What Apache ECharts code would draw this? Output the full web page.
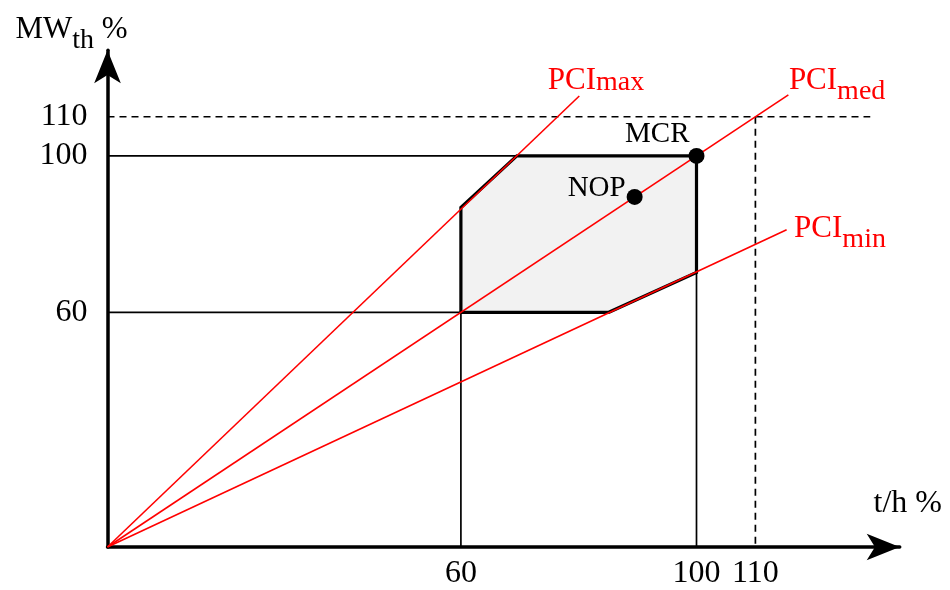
<!DOCTYPE html>
<html><head><meta charset="utf-8">
<script src="https://cdn.jsdelivr.net/npm/echarts@6/dist/echarts.min.js"></script>
<style>html,body{margin:0;padding:0;background:#fff}#c{width:950px;height:590px}</style>
</head><body><div id="c"></div>
<script>
// ---- data ----
const xTicks = [60, 100, 110];
const yTicks = [60, 100, 110];
const region = [[60, 60], [60, 86.8], [69.5, 100], [100, 100], [100, 70.2], [85.1, 60]];
const pciMax = [[0, 0], [80.1, 115.3]];
const pciMed = [[0, 0], [115.6, 115.6]];
const pciMin = [[0, 0], [115.3, 81.1]];
const guide100h = [[0, 100], [100, 100]];
const guide60h = [[0, 60], [60, 60]];
const guide60v = [[60, 0], [60, 60]];
const guide100v = [[100, 0], [100, 70.2]];
const dash110h = [[0, 110], [129.5, 110]];
const dash110v = [[110, 110], [110, 0]];
const opPoints = [['MCR', 100, 100], ['NOP', 89.5, 89.5]];

const FONT = 'Liberation Serif';
const chart = echarts.init(document.getElementById('c'), null, {renderer: 'canvas'});

function thin(data, extra) {
  return Object.assign({
    type: 'line', data: data, symbol: 'none', silent: true, z: 2,
    lineStyle: {color: '#000', width: 1.7}
  }, extra || {});
}
function red(data) {
  return {
    type: 'line', data: data, symbol: 'none', silent: true, z: 4,
    lineStyle: {color: '#ff0000', width: 1.6}
  };
}
function richFor(color) {
  return {
    a: {fontFamily: FONT, fontSize: 31, color: color, verticalAlign: 'top', lineHeight: 32},
    hi: {fontFamily: FONT, fontSize: 28, color: color, verticalAlign: 'bottom', lineHeight: 31.5},
    lo: {fontFamily: FONT, fontSize: 28, color: color, verticalAlign: 'bottom', lineHeight: 40.5}
  };
}
const redRich = richFor('#ff0000');

const option = {
  animation: false,
  backgroundColor: '#fff',
  grid: {left: 107.5, right: 0, top: 0, bottom: 41.5, containLabel: false},
  xAxis: {
    type: 'value', min: 0, max: 134.5,
    name: 't/h %', nameLocation: 'end', nameGap: 8,
    nameTextStyle: {fontFamily: FONT, fontSize: 32, color: '#000', align: 'center', verticalAlign: 'bottom', padding: [0, 0, 27, 0]},
    axisLine: {show: true, onZero: false, symbol: ['none', 'arrow'], symbolSize: [20, 33],
      lineStyle: {color: '#000', width: 3.5}},
    axisTick: {show: false},
    splitLine: {show: false},
    axisLabel: {customValues: xTicks, fontFamily: FONT, fontSize: 32, color: '#000', margin: 11}
  },
  yAxis: {
    type: 'value', min: 0, max: 127,
    name: '{a|MW}{lo|th}{a| %}', nameLocation: 'end', nameGap: 15.5,
    nameTextStyle: {
      align: 'center', verticalAlign: 'middle', padding: [0, 72, 0, 0],
      rich: richFor('#000')
    },
    axisLine: {show: true, onZero: false, symbol: ['none', 'arrow'], symbolSize: [20, 33],
      lineStyle: {color: '#000', width: 3.5}},
    axisTick: {show: false},
    splitLine: {show: false},
    axisLabel: {customValues: yTicks, fontFamily: FONT, fontSize: 32, color: '#000', margin: 20}
  },
  series: [
    thin(guide100h), thin(guide60h), thin(guide60v), thin(guide100v),
    thin(dash110h, {lineStyle: {color: '#000', width: 1.7, type: [7, 5]}}),
    thin(dash110v, {lineStyle: {color: '#000', width: 1.7, type: [7, 5]}}),
    {
      type: 'custom', silent: true, z: 3, data: [[0, 0]],
      renderItem: function (params, api) {
        return {
          type: 'polygon',
          shape: {points: region.map(function (p) { return api.coord(p); })},
          style: {fill: '#f2f2f2', stroke: '#000', lineWidth: 3.2, lineJoin: 'miter'}
        };
      }
    },
    red(pciMax), red(pciMed), red(pciMin),
    {
      type: 'scatter', silent: true, z: 6, symbolSize: 1,
      itemStyle: {color: 'rgba(0,0,0,0)', opacity: 1},
      data: [
        {value: pciMax[1], label: {show: true, position: 'right', formatter: '{a|PCI}{hi|max}', rich: redRich, offset: [-37, -15]}},
        {value: pciMed[1], label: {show: true, position: 'right', formatter: '{a|PCI}{lo|med}', rich: redRich, offset: [-5, -9]}},
        {value: pciMin[1], label: {show: true, position: 'right', formatter: '{a|PCI}{lo|min}', rich: redRich, offset: [2, 4]}}
      ]
    },
    {
      type: 'scatter', silent: true, z: 7, symbol: 'circle', symbolSize: 16,
      itemStyle: {color: '#000', opacity: 1},
      data: opPoints.map(function (p) { return {name: p[0], value: [p[1], p[2]]}; }),
      label: {show: true, position: 'left', formatter: '{b}', fontFamily: FONT, fontSize: 29, color: '#000', opacity: 1}
    }
  ]
};
const opSeries = option.series[option.series.length - 1];
opSeries.data[0].label = {offset: [6, -21]};
opSeries.data[1].label = {offset: [4, -9]};
// grid sized so the axis ends sit at the arrow tips: 5.89 px per x unit, 3.923 px per y unit
option.grid.right = 950 - 107.5 - 134.5 * 5.89;
option.grid.top = 590 - 41.5 - 127 * 3.923;
chart.setOption(option);
</script>
</body></html>
